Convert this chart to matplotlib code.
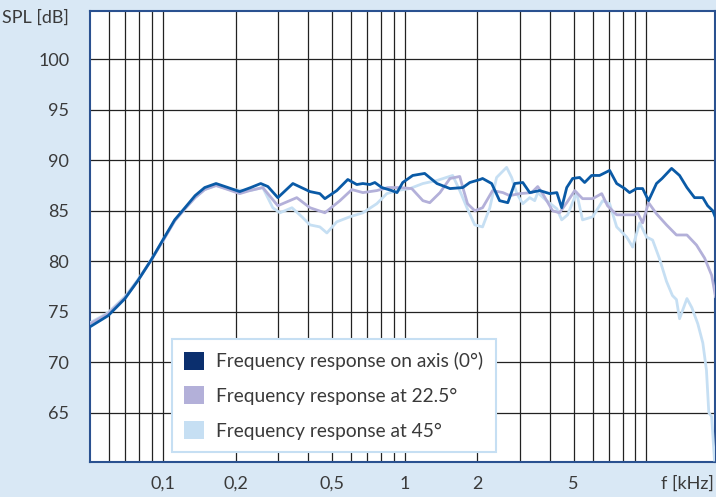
import matplotlib
matplotlib.use("Agg")
import matplotlib.pyplot as plt
from matplotlib.patches import Patch

plt.rcParams['font.family'] = ['Lato', 'DejaVu Sans']

# frequency [kHz], SPL [dB]
f_axis = [0.05, 0.0594, 0.0698, 0.079, 0.0894, 0.1, 0.112, 0.1235, 0.136, 0.149,
          0.166, 0.186, 0.208, 0.231, 0.254, 0.272, 0.299, 0.345, 0.406, 0.446,
          0.468, 0.524, 0.582, 0.634, 0.672, 0.718, 0.753, 0.805, 0.885, 0.93,
          0.982, 1.08, 1.21, 1.36, 1.54, 1.74, 1.86, 2.05, 2.10, 2.29, 2.47, 2.67,
          2.85, 3.08, 3.29, 3.62, 3.98, 4.26, 4.46, 4.68, 4.95, 5.29, 5.55, 5.93,
          6.40, 7.04, 7.53, 8.13, 8.51, 9.10, 9.64, 10.2, 11.0, 11.6, 12.7, 13.7,
          14.7, 15.8, 17.1, 17.9, 18.8, 19.3]
spl_axis = [73.5, 74.6, 76.3, 78.1, 80.1, 82.1, 84.1, 85.3, 86.5, 87.3,
            87.7, 87.3, 86.9, 87.3, 87.7, 87.4, 86.3, 87.7, 86.9, 86.7,
            86.2, 87.0, 88.1, 87.6, 87.7, 87.6, 87.8, 87.3, 87.0, 86.8,
            87.8, 88.5, 88.7, 87.7, 87.2, 87.3, 87.8, 88.1, 88.2, 87.7, 86.0, 85.8,
            87.7, 87.8, 86.8, 87.0, 86.7, 86.8, 85.3, 87.3, 88.2, 88.3, 87.8, 88.5,
            88.5, 89.0, 87.7, 87.2, 86.8, 87.2, 87.2, 86.0, 87.7, 88.2, 89.2, 88.5,
            87.3, 86.3, 86.3, 85.5, 85.0, 84.3]

f_22 = [0.05, 0.0594, 0.0698, 0.079, 0.0894, 0.1, 0.112, 0.1235, 0.136, 0.149,
        0.166, 0.186, 0.208, 0.229, 0.259, 0.299, 0.358, 0.406, 0.468, 0.540,
        0.605, 0.672, 0.767, 0.852, 0.955, 1.07, 1.19, 1.27, 1.40, 1.54, 1.69,
        1.74, 1.82, 1.95, 2.10, 2.31, 2.55, 2.72, 2.99, 3.35, 3.55, 3.72, 4.09,
        4.37, 4.68, 5.05, 5.44, 5.99, 6.53, 6.90, 7.53, 8.28, 8.93, 9.19, 9.64,
        10.2, 11.0, 12.1, 13.3, 14.7, 16.1, 17.4, 18.6, 19.3]
spl_22 = [73.8, 74.8, 76.4, 78.1, 80.1, 82.0, 84.0, 85.2, 86.3, 87.1,
          87.5, 87.1, 86.7, 87.0, 87.3, 85.5, 86.3, 85.3, 84.8, 86.0,
          87.1, 86.8, 87.0, 87.3, 87.3, 87.2, 86.0, 85.8, 86.8, 88.2, 88.4,
          87.3, 85.7, 85.0, 85.3, 87.0, 86.8, 86.5, 86.7, 86.8, 87.4, 86.7, 85.0,
          84.8, 85.8, 87.0, 86.2, 86.2, 86.7, 85.5, 84.6, 84.6, 84.6, 84.8, 83.8,
          85.8, 84.7, 83.6, 82.6, 82.6, 81.6, 80.3, 78.6, 76.5]

f_45 = [0.05, 0.0594, 0.0698, 0.079, 0.0894, 0.1, 0.112, 0.1235, 0.136, 0.149,
        0.166, 0.189, 0.229, 0.259, 0.285, 0.305, 0.342, 0.376, 0.406, 0.446,
        0.477, 0.524, 0.593, 0.672, 0.767, 0.844, 0.929, 1.05, 1.19, 1.36, 1.58,
        1.69, 1.81, 1.95, 2.10, 2.25, 2.40, 2.64, 2.77, 2.91, 3.08, 3.29, 3.45,
        3.55, 3.86, 4.26, 4.46, 4.72, 5.14, 5.44, 5.99, 6.59, 7.04, 7.53, 8.28,
        8.77, 9.37, 10.0, 10.6, 11.3, 12.1, 12.8, 13.3, 13.7, 14.7, 15.4, 16.3,
        17.1, 17.7, 18.1, 18.6, 19.1]
spl_45 = [73.9, 74.9, 76.5, 78.2, 80.1, 82.0, 84.0, 85.2, 86.3, 87.1,
          87.5, 87.1, 87.0, 87.3, 85.3, 84.8, 85.3, 84.4, 83.6, 83.4,
          82.8, 83.9, 84.4, 84.8, 85.7, 86.7, 87.0, 87.2, 87.7, 88.0, 88.5,
          87.0, 85.3, 83.6, 83.4, 85.3, 88.3, 89.3, 88.3, 86.7, 85.7, 86.3, 86.0,
          86.8, 86.0, 85.2, 84.1, 84.6, 86.8, 84.1, 84.4, 86.0, 85.7, 83.4, 82.4,
          81.4, 83.8, 82.4, 82.1, 80.3, 78.0, 76.6, 76.2, 74.3, 76.3, 75.4, 73.8,
          71.9, 69.2, 65.0, 64.6, 60.3]

labels = ["Frequency response on axis (0°)",
          "Frequency response at 22.5°",
          "Frequency response at 45°"]

major_ticks = [0.1, 0.2, 0.5, 1, 2, 5]
major_labels = ["0,1", "0,2", "0,5", "1", "2", "5"]
grid_ticks = [0.06, 0.07, 0.08, 0.09, 0.3, 0.4, 0.6, 0.7, 0.8, 0.9,
              3, 4, 6, 7, 8, 9, 10]
y_ticks = [65, 70, 75, 80, 85, 90, 95, 100]

bg = "#d9e8f5"
c_axis = "#0a5aa6"
c_22 = "#b3b0d9"
c_45 = "#c6dff3"
txt = "#3a3a3a"

fig = plt.figure(figsize=(7.16, 4.97), dpi=100, facecolor=bg)
ax = fig.add_axes([0.1257, 0.0704, 0.8729, 0.9075])
ax.set_facecolor("white")

ax.semilogx(f_45, spl_45, color=c_45, lw=2.0, solid_joinstyle="round", zorder=3)
ax.semilogx(f_22, spl_22, color=c_22, lw=2.0, solid_joinstyle="round", zorder=4)
ax.semilogx(f_axis, spl_axis, color=c_axis, lw=2.0, solid_joinstyle="round", zorder=5)

ax.set_xlim(0.05, 19.2)
ax.set_ylim(60.1, 104.8)

ax.set_xticks(major_ticks)
ax.set_xticklabels(major_labels)
ax.set_xticks(grid_ticks, minor=True)
ax.xaxis.set_minor_formatter(plt.NullFormatter())
ax.set_yticks(y_ticks)
ax.tick_params(which="both", length=0, labelsize=13, colors=txt)
ax.tick_params(axis="x", pad=10)
ax.tick_params(axis="y", pad=15)
ax.grid(which="both", color="#222222", lw=0.9)
ax.set_axisbelow(True)

for s in ax.spines.values():
    s.set_color("#2a5190")
    s.set_linewidth(1.5)

ax.text(-0.0336, 104.16, "SPL [dB]", transform=ax.get_yaxis_transform(),
        ha="right", va="center", fontsize=13, color=txt)
ax.text(0.999, -0.0488, "f [kHz]", transform=ax.transAxes,
        ha="right", va="center", fontsize=13, color=txt)

handles = [Patch(facecolor="#0b2f6e"), Patch(facecolor=c_22), Patch(facecolor=c_45)]
leg = ax.legend(handles, labels, loc="lower left", bbox_to_anchor=(0.131, 0.022),
                borderaxespad=0, fontsize=13.8, handlelength=1.05, handleheight=1.05,
                handletextpad=0.6, labelspacing=0.85, borderpad=0.65,
                fancybox=False, framealpha=1, edgecolor=c_45)
leg.get_frame().set_linewidth(1.5)
leg.set_zorder(10)
for t in leg.get_texts():
    t.set_color(txt)

fig.savefig("out.png", dpi=100, facecolor=bg)
